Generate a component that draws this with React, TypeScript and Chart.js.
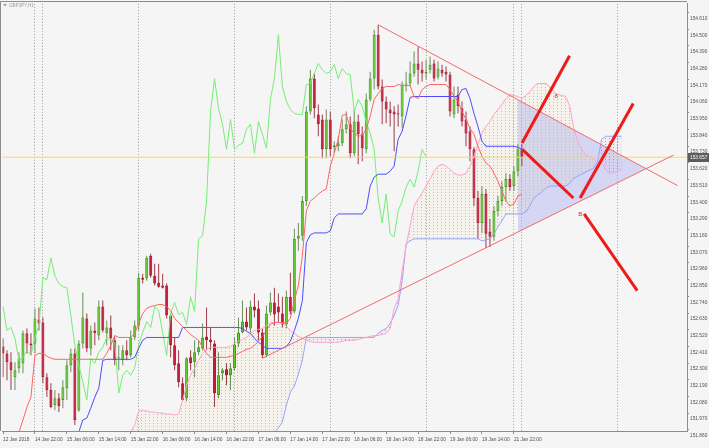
import React, { useEffect, useRef } from "react";
import { Chart, registerables } from "chart.js";

Chart.register(...registerables);

const FONT = '"Liberation Sans", Arial, sans-serif';
const BG = "#f5f5f5";
const TEXT = "#505050";
const AXIS = "#8c8c8c";

const X_MIN = -0.125;
const X_MAX = 171.375;
const Y_MIN = 151.8525;
const Y_MAX = 154.6675;

const symbolTitle = "GBPJPY,H1";
const lastPrice = 153.657;
const CHIKOU_SHIFT = 24;

const dateLabels = [
  "12 Jan 2018", "14 Jan 22:00", "15 Jan 06:00", "15 Jan 14:00", "15 Jan 22:00", "16 Jan 06:00",
  "16 Jan 14:00", "16 Jan 22:00", "17 Jan 06:00", "17 Jan 14:00", "17 Jan 22:00", "18 Jan 06:00",
  "18 Jan 14:00", "18 Jan 22:00", "19 Jan 06:00", "19 Jan 14:00", "21 Jan 22:00",
];
const labelIdx = [0, 8, 16, 24, 32, 40, 48, 56, 64, 72, 80, 88, 96, 104, 112, 120, 128];
const separatorIdx = [8, 10, 34, 58, 82, 106, 128, 130, 154];
const priceTicks = [
  154.61, 154.5, 154.39, 154.28, 154.17, 154.06, 153.95, 153.84, 153.73, 153.62, 153.51, 153.4, 153.29,
  153.18, 153.07, 152.96, 152.85, 152.74, 152.63, 152.52, 152.41, 152.3, 152.19, 152.08, 151.97, 151.86,
];

const opens = [
  152.410, 152.364, 152.305, 152.207, 152.266, 152.299, 152.496, 152.430, 152.430, 152.587,
  152.568, 152.207, 152.122, 152.023, 152.069, 152.056, 152.135, 152.286, 152.364, 151.990,
  152.430, 152.594, 152.397, 152.515, 152.482, 152.673, 152.496, 152.535, 152.450, 152.332,
  152.318, 152.384, 152.351, 152.469, 152.548, 152.863, 152.857, 153.007, 152.876, 152.830,
  152.811, 152.811, 152.614, 152.417, 152.299, 152.168, 152.069, 152.338, 152.305, 152.371,
  152.397, 152.476, 152.456, 152.430, 152.089, 152.233, 152.259, 152.220, 152.266, 152.430,
  152.502, 152.574, 152.528, 152.673, 152.660, 152.502, 152.351, 152.633, 152.699, 152.673,
  152.627, 152.555, 152.738, 152.640, 153.119, 153.139, 153.368, 153.959, 154.175, 153.939,
  153.906, 153.709, 153.906, 153.723, 153.729, 153.749, 153.841, 153.874, 153.683, 153.893,
  153.808, 153.709, 154.038, 154.175, 154.464, 154.123, 154.024, 153.972, 153.959, 153.946,
  153.926, 154.136, 154.143, 154.208, 154.274, 154.234, 154.208, 154.234, 154.274, 154.188,
  154.234, 154.221, 154.202, 153.939, 154.070, 153.979, 153.906, 153.828, 153.709, 153.388,
  153.224, 153.414, 153.165, 153.132, 153.303, 153.368, 153.460, 153.513, 153.467, 153.565,
  153.709,
];
const highs = [
  152.463, 152.384, 152.371, 152.305, 152.371, 152.515, 152.528, 152.496, 152.660, 152.666,
  152.601, 152.233, 152.168, 152.122, 152.102, 152.187, 152.318, 152.397, 152.397, 152.450,
  152.765, 152.627, 152.548, 152.568, 152.712, 152.712, 152.581, 152.614, 152.476, 152.417,
  152.417, 152.450, 152.515, 152.581, 152.896, 152.889, 153.007, 153.021, 152.955, 152.955,
  152.889, 152.824, 152.627, 152.469, 152.384, 152.207, 152.338, 152.384, 152.450, 152.450,
  152.561, 152.666, 152.535, 152.450, 152.371, 152.266, 152.299, 152.299, 152.469, 152.601,
  152.712, 152.666, 152.712, 152.758, 152.712, 152.528, 152.679, 152.765, 152.797, 152.758,
  152.738, 152.778, 152.896, 153.185, 153.224, 153.401, 153.992, 154.234, 154.208, 154.005,
  153.939, 153.972, 153.959, 153.762, 153.795, 153.906, 153.959, 153.926, 153.972, 153.939,
  153.860, 154.077, 154.221, 154.497, 154.530, 154.169, 154.057, 154.024, 153.992, 154.005,
  154.156, 154.221, 154.287, 154.353, 154.385, 154.287, 154.300, 154.320, 154.300, 154.287,
  154.267, 154.254, 154.221, 154.123, 154.123, 154.024, 153.959, 153.860, 153.723, 153.434,
  153.467, 153.447, 153.250, 153.336, 153.401, 153.499, 153.552, 153.545, 153.598, 153.742,
  153.742,
];
const lows = [
  152.207, 152.187, 152.122, 152.122, 152.233, 152.233, 152.364, 152.351, 152.364, 152.515,
  152.168, 152.076, 152.003, 151.990, 151.977, 152.003, 152.056, 152.240, 151.892, 151.977,
  152.397, 152.371, 152.351, 152.417, 152.450, 152.502, 152.417, 152.384, 152.286, 152.253,
  152.286, 152.318, 152.338, 152.450, 152.515, 152.824, 152.843, 152.863, 152.811, 152.797,
  152.791, 152.594, 152.338, 152.253, 152.141, 152.049, 152.049, 152.253, 152.207, 152.351,
  152.384, 152.384, 152.384, 152.010, 152.069, 152.187, 152.154, 152.122, 152.253, 152.404,
  152.496, 152.515, 152.502, 152.601, 152.450, 152.332, 152.338, 152.614, 152.548, 152.568,
  152.535, 152.528, 152.620, 152.627, 153.040, 153.106, 153.336, 153.939, 153.913, 153.795,
  153.650, 153.650, 153.664, 153.683, 153.696, 153.729, 153.814, 153.650, 153.664, 153.611,
  153.631, 153.683, 154.024, 154.103, 154.103, 153.874, 153.880, 153.860, 153.696, 153.860,
  153.847, 154.090, 154.123, 154.188, 154.136, 154.156, 154.169, 154.208, 154.156, 154.169,
  154.188, 154.156, 153.926, 153.913, 153.946, 153.860, 153.729, 153.631, 153.336, 153.119,
  153.158, 153.060, 153.066, 153.106, 153.270, 153.336, 153.368, 153.434, 153.434, 153.532,
  153.598,
];
const closes = [
  152.364, 152.305, 152.253, 152.253, 152.332, 152.496, 152.430, 152.417, 152.594, 152.561,
  152.207, 152.122, 152.010, 152.069, 152.017, 152.141, 152.286, 152.364, 151.925, 152.430,
  152.601, 152.397, 152.515, 152.496, 152.673, 152.515, 152.535, 152.463, 152.318, 152.338,
  152.384, 152.351, 152.469, 152.548, 152.863, 152.850, 152.994, 152.876, 152.824, 152.804,
  152.797, 152.614, 152.417, 152.286, 152.174, 152.056, 152.332, 152.299, 152.371, 152.404,
  152.469, 152.450, 152.437, 152.102, 152.220, 152.253, 152.220, 152.266, 152.423, 152.502,
  152.574, 152.535, 152.673, 152.646, 152.502, 152.351, 152.627, 152.699, 152.620, 152.633,
  152.555, 152.738, 152.640, 153.119, 153.139, 153.368, 153.959, 154.175, 153.979, 153.874,
  153.709, 153.906, 153.709, 153.736, 153.749, 153.841, 153.874, 153.683, 153.893, 153.808,
  153.716, 154.038, 154.175, 154.464, 154.123, 154.024, 153.972, 153.946, 153.939, 153.939,
  154.136, 154.143, 154.208, 154.274, 154.234, 154.208, 154.221, 154.267, 154.175, 154.241,
  154.208, 154.202, 153.959, 154.038, 153.992, 153.893, 153.814, 153.709, 153.388, 153.224,
  153.414, 153.152, 153.132, 153.303, 153.368, 153.460, 153.513, 153.460, 153.565, 153.709,
  153.657,
];

const tenkan = [
  151.761, 151.761, 151.761, 151.761, 151.846, 151.925, 152.010, 152.076, 152.351, 152.364,
  152.364, 152.345, 152.332, 152.325, 152.325, 152.325, 152.325, 152.325, 152.325, 152.325,
  152.325, 152.325, 152.325, 152.325, 152.325, 152.325, 152.364, 152.417, 152.482, 152.469,
  152.469, 152.469, 152.469, 152.496, 152.561, 152.627, 152.660, 152.673, 152.679, 152.686,
  152.686, 152.673, 152.646, 152.594, 152.568, 152.542, 152.515, 152.489, 152.469, 152.450,
  152.404, 152.364, 152.338, 152.338, 152.338, 152.338, 152.338, 152.345, 152.351, 152.364,
  152.377, 152.391, 152.397, 152.417, 152.443, 152.476, 152.515, 152.555, 152.568, 152.568,
  152.568, 152.561, 152.594, 152.712, 152.811, 153.007, 153.303, 153.368, 153.388, 153.414,
  153.434, 153.447, 153.598, 153.683, 153.775, 153.933, 153.939, 153.847, 153.814, 153.795,
  153.801, 153.841, 153.926, 154.038, 154.077, 154.110, 154.123, 154.123, 154.123, 154.136,
  154.130, 154.130, 154.130, 154.057, 154.044, 154.103, 154.123, 154.136, 154.136, 154.136,
  154.136, 154.136, 154.103, 154.057, 154.024, 153.959, 153.906, 153.847, 153.808, 153.729,
  153.664, 153.618, 153.598, 153.552, 153.499, 153.434, 153.368, 153.336, 153.349, 153.401,
  153.414,
];
const kijun = [
  151.793, 151.793, 151.793, 151.793, 151.793, 151.793, 151.793, 151.793, 151.793, 151.793,
  151.793, 151.793, 151.793, 151.793, 151.793, 151.793, 151.793, 151.793, 151.793, 151.846,
  151.925, 151.938, 152.003, 152.076, 152.135, 152.318, 152.325, 152.325, 152.325, 152.325,
  152.325, 152.325, 152.325, 152.338, 152.397, 152.450, 152.469, 152.469, 152.469, 152.469,
  152.469, 152.469, 152.469, 152.469, 152.469, 152.535, 152.535, 152.535, 152.535, 152.535,
  152.535, 152.535, 152.535, 152.535, 152.535, 152.535, 152.535, 152.535, 152.535, 152.535,
  152.528, 152.509, 152.496, 152.463, 152.437, 152.417, 152.397, 152.397, 152.397, 152.397,
  152.397, 152.410, 152.443, 152.515, 152.594, 152.712, 153.093, 153.145, 153.158, 153.158,
  153.158, 153.158, 153.171, 153.257, 153.283, 153.283, 153.283, 153.283, 153.283, 153.283,
  153.283, 153.316, 153.467, 153.526, 153.545, 153.545, 153.545, 153.565, 153.598, 153.775,
  153.828, 153.933, 154.051, 154.057, 154.057, 154.057, 154.057, 154.057, 154.057, 154.057,
  154.057, 154.057, 154.057, 154.057, 154.057, 154.103, 154.110, 154.044, 153.946, 153.860,
  153.762, 153.729, 153.729, 153.729, 153.729, 153.729, 153.729, 153.729, 153.729, 153.723,
  153.709,
];
const senkouA = [
  151.761, 151.761, 151.761, 151.761, 151.761, 151.761, 151.761, 151.761, 151.761, 151.761,
  151.761, 151.761, 151.761, 151.761, 151.761, 151.761, 151.761, 151.761, 151.761, 151.761,
  151.761, 151.761, 151.761, 151.761, 151.761, 151.761, 151.761, 151.761, 151.761, 151.761,
  151.761, 151.761, 151.846, 151.892, 151.984, 151.990, 151.984, 151.977, 151.977, 151.971,
  151.971, 151.964, 151.964, 151.958, 151.964, 152.056, 152.154, 152.220, 152.266, 152.318,
  152.364, 152.391, 152.404, 152.404, 152.404, 152.404, 152.404, 152.410, 152.430, 152.443,
  152.456, 152.469, 152.496, 152.515, 152.522, 152.528, 152.548, 152.568, 152.568, 152.568,
  152.561, 152.542, 152.515, 152.496, 152.476, 152.463, 152.450, 152.443, 152.437, 152.437,
  152.437, 152.437, 152.437, 152.437, 152.437, 152.443, 152.450, 152.450, 152.450, 152.456,
  152.463, 152.469, 152.476, 152.482, 152.482, 152.489, 152.496, 152.528, 152.660, 152.725,
  152.909, 153.073, 153.204, 153.335, 153.381, 153.421, 153.467, 153.513, 153.565, 153.598,
  153.611, 153.598, 153.578, 153.552, 153.539, 153.539, 153.552, 153.598, 153.664, 153.742,
  153.814, 153.860, 153.893, 153.939, 153.972, 154.005, 154.044, 154.070, 154.064, 154.057,
  154.044, 154.064, 154.090, 154.123, 154.143, 154.143, 154.143, 154.123, 154.090, 154.070,
  154.064, 154.057, 153.992, 153.847, 153.762, 153.709, 153.670, 153.657, 153.644, 153.618,
  153.618, 153.578, 153.552, 153.552, 153.565, 153.578,
];
const senkouB = [
  151.761, 151.761, 151.761, 151.761, 151.761, 151.761, 151.761, 151.761, 151.761, 151.761,
  151.761, 151.761, 151.761, 151.761, 151.761, 151.761, 151.761, 151.761, 151.761, 151.761,
  151.761, 151.761, 151.761, 151.761, 151.761, 151.761, 151.761, 151.761, 151.761, 151.761,
  151.761, 151.761, 151.761, 151.761, 151.761, 151.761, 151.761, 151.761, 151.761, 151.761,
  151.761, 151.761, 151.761, 151.761, 151.761, 151.761, 151.761, 151.761, 151.761, 151.761,
  151.761, 151.761, 151.761, 151.761, 151.761, 151.761, 151.761, 151.761, 151.761, 151.761,
  151.761, 151.761, 151.761, 151.761, 151.761, 151.761, 151.761, 151.761, 151.846, 151.872,
  151.912, 152.023, 152.108, 152.148, 152.227, 152.318, 152.469, 152.469, 152.469, 152.469,
  152.469, 152.469, 152.469, 152.469, 152.469, 152.469, 152.469, 152.469, 152.469, 152.469,
  152.469, 152.469, 152.469, 152.469, 152.496, 152.515, 152.528, 152.561, 152.614, 152.679,
  152.843, 153.086, 153.106, 153.119, 153.119, 153.119, 153.119, 153.119, 153.119, 153.119,
  153.119, 153.119, 153.119, 153.119, 153.119, 153.119, 153.119, 153.119, 153.119, 153.119,
  153.106, 153.112, 153.119, 153.152, 153.198, 153.237, 153.283, 153.283, 153.283, 153.283,
  153.283, 153.296, 153.335, 153.388, 153.408, 153.427, 153.454, 153.467, 153.467, 153.467,
  153.467, 153.467, 153.486, 153.519, 153.532, 153.545, 153.559, 153.572, 153.585, 153.631,
  153.775, 153.795, 153.795, 153.795, 153.795, 153.795,
];

// drawn objects: [barIndex, price]
const upperTrend = [[94, 154.53], [169, 153.47]];
const lowerTrend = [[65, 152.332], [168, 153.671]];
const triangleTop = [[129, 154.036], [161.1, 153.582]];
const triangleBottom = [[129, 153.164], [161.1, 153.582]];
const thickLines = [
  [[130.05, 153.751], [141.95, 154.326]],
  [[130.1, 153.709], [142.9, 153.388]],
  [[144.6, 153.388], [157.9, 154.011]],
  [[145.6, 153.283], [158.9, 152.778]],
];
const notes = [
  { text: "8", x: 138.6, y: 154.057 },
  { text: "B", x: 144.6, y: 153.283 },
];

const BULL_FILL = "#62d22c";
const BULL_EDGE = "#3f9c1e";
const BEAR_FILL = "#c8173a";
const BEAR_EDGE = "#b3132f";
const BULL_WICK = "#6a8f5c";
const BEAR_WICK = "#9c3b4b";

export default function App() {
  const ref = useRef<HTMLCanvasElement | null>(null);

  useEffect(() => {
    document.body.style.margin = "0";
    document.body.style.background = BG;
    const canvas = ref.current;
    if (!canvas) return;
    const ctx = canvas.getContext("2d") as CanvasRenderingContext2D;

    const makeDots = (tint: string, color: string) => {
      const c = document.createElement("canvas");
      c.width = 4;
      c.height = 3;
      const g = c.getContext("2d") as CanvasRenderingContext2D;
      g.fillStyle = tint;
      g.fillRect(0, 0, 4, 3);
      g.fillStyle = color;
      g.fillRect(1, 0, 1, 1);
      return ctx.createPattern(c, "repeat") as CanvasPattern;
    };
    const yellowDots = makeDots("rgba(248,220,130,0.08)", "#f0bc3a");
    const greyDots = makeDots("rgba(180,180,225,0.08)", "#9c9cc8");

    const pts = (arr: number[]) => arr.map((v, i) => ({ x: i, y: v }));
    const pairPts = (arr: number[][]) => arr.map((p) => ({ x: p[0], y: p[1] }));
    const bull = opens.map((o, i) => closes[i] >= o);

    const lineBase = {
      type: "line" as const,
      pointRadius: 0,
      borderWidth: 1,
      tension: 0,
      fill: false,
      xAxisID: "x",
      yAxisID: "y",
    };

    const datasets: any[] = [
      { ...lineBase, label: "triTop", data: pairPts(triangleTop), borderWidth: 0, borderColor: "rgba(0,0,0,0)",
        fill: { target: "+1" }, backgroundColor: "rgba(176,176,244,0.45)", order: 100 },
      { ...lineBase, label: "triBottom", data: pairPts(triangleBottom), borderWidth: 0, borderColor: "rgba(0,0,0,0)", order: 101 },
      { ...lineBase, label: "senkouB", data: pts(senkouB), borderColor: "#98a2ff", order: 42 },
      { ...lineBase, label: "senkouA", data: pts(senkouA), borderColor: "#ffa2c8", order: 41,
        fill: { target: "-1", above: yellowDots, below: greyDots } },
      { type: "bar", label: "wicks", data: opens.map((_, i) => ({ x: i, y: [lows[i], highs[i]] })),
        backgroundColor: bull.map((b) => (b ? BULL_WICK : BEAR_WICK)), borderWidth: 0, barThickness: 1,
        grouped: false, inflateAmount: 0, xAxisID: "x", yAxisID: "y", order: 60 },
      { type: "bar", label: "bodies", data: opens.map((o, i) => ({ x: i, y: [o, closes[i]] })),
        backgroundColor: bull.map((b) => (b ? BULL_FILL : BEAR_FILL)),
        borderColor: bull.map((b) => (b ? BULL_EDGE : BEAR_EDGE)), borderWidth: 1, borderSkipped: false,
        barThickness: 3, minBarLength: 1, grouped: false, inflateAmount: 0, xAxisID: "x", yAxisID: "y", order: 59 },
      { ...lineBase, label: "chikou", data: closes.slice(CHIKOU_SHIFT).map((c, k) => ({ x: k, y: c })),
        borderColor: "#74ee74", order: 40 },
      { ...lineBase, label: "kijun", data: pts(kijun), borderColor: "#4c4cff", order: 39 },
      { ...lineBase, label: "tenkan", data: pts(tenkan), borderColor: "#ff6464", order: 38 },
      { ...lineBase, label: "bid", data: [{ x: X_MIN, y: lastPrice }, { x: X_MAX, y: lastPrice }],
        borderColor: "#ffd45a", order: 30 },
      { ...lineBase, label: "upperTrend", data: pairPts(upperTrend), borderColor: "#f06c6c", order: 20 },
      { ...lineBase, label: "lowerTrend", data: pairPts(lowerTrend), borderColor: "#f06c6c", order: 20 },
      ...thickLines.map((seg, k) => ({
        ...lineBase, label: "arrow" + k, data: pairPts(seg), borderColor: "#ee1b1b", borderWidth: 3, order: 10,
      })),
    ];

    const overlay = {
      id: "overlay",
      beforeDraw(chart: any) {
        const c = chart.ctx;
        c.save();
        c.fillStyle = BG;
        c.fillRect(0, 0, chart.width, chart.height);
        c.restore();
      },
      afterDraw(chart: any) {
        const c = chart.ctx as CanvasRenderingContext2D;
        const a = chart.chartArea;
        const xs = chart.scales.x;
        const ys = chart.scales.y;
        c.save();
        c.strokeStyle = AXIS;
        c.lineWidth = 1;
        c.beginPath();
        c.moveTo(0.5, a.bottom);
        c.lineTo(0.5, 1.5);
        c.lineTo(a.right, 1.5);
        c.stroke();
        c.fillStyle = "#9a9a9a";
        c.beginPath();
        c.moveTo(3, 4);
        c.lineTo(7, 4);
        c.lineTo(5, 6.5);
        c.closePath();
        c.fill();
        c.font = `4.6px ${FONT}`;
        c.textBaseline = "middle";
        c.textAlign = "left";
        c.fillText(symbolTitle, 9, 5.5);
        const py = Math.round(ys.getPixelForValue(lastPrice));
        c.fillStyle = "#5c5c5c";
        c.fillRect(a.right + 1, py - 4, chart.width - a.right - 1, 9);
        c.fillStyle = "#ffffff";
        c.font = `4.8px ${FONT}`;
        c.fillText(lastPrice.toFixed(3), a.right + 3, py + 0.5);
        c.fillStyle = "#e02424";
        c.font = `6px ${FONT}`;
        c.textAlign = "center";
        for (const n of notes) {
          c.fillText(n.text, xs.getPixelForValue(n.x), ys.getPixelForValue(n.y));
        }
        c.restore();
      },
    };

    const chart = new Chart(canvas, {
      type: "line",
      data: { datasets },
      options: {
        responsive: false,
        animation: false,
        devicePixelRatio: 1,
        events: [],
        layout: { padding: { left: 1, top: 2, right: 0, bottom: 0 } },
        plugins: {
          legend: { display: false },
          tooltip: { enabled: false },
          filler: { drawTime: "beforeDatasetsDraw", propagate: false },
        } as any,
        scales: {
          x: {
            type: "linear",
            position: "bottom",
            min: X_MIN,
            max: X_MAX,
            offset: false,
            afterBuildTicks: (axis: any) => {
              axis.ticks = labelIdx.map((v) => ({ value: v }));
            },
            afterFit: (axis: any) => {
              axis.height = 17;
            },
            ticks: {
              autoSkip: false,
              maxRotation: 0,
              minRotation: 0,
              align: "start",
              padding: 3,
              color: TEXT,
              font: { family: FONT, size: 4.8 },
              callback: (_v: any, idx: number) => dateLabels[idx],
            },
            grid: { offset: false, drawOnChartArea: false, drawTicks: true, tickLength: 3, color: AXIS },
            border: { display: true, color: AXIS },
          },
          sep: {
            type: "linear",
            position: "bottom",
            min: X_MIN,
            max: X_MAX,
            offset: false,
            afterBuildTicks: (axis: any) => {
              axis.ticks = separatorIdx.map((v) => ({ value: v }));
            },
            afterFit: (axis: any) => {
              axis.height = 0;
            },
            ticks: { display: false, autoSkip: false },
            grid: { offset: false, drawOnChartArea: true, drawTicks: false, color: "#a0a0a0", lineWidth: 1 },
            border: { display: false, dash: [1, 2] },
          },
          y: {
            type: "linear",
            position: "right",
            min: Y_MIN,
            max: Y_MAX,
            beginAtZero: false,
            afterBuildTicks: (axis: any) => {
              axis.ticks = priceTicks.map((v) => ({ value: v }));
            },
            afterFit: (axis: any) => {
              axis.width = 22;
            },
            ticks: {
              autoSkip: false,
              padding: 1,
              labelOffset: 6,
              color: TEXT,
              font: { family: FONT, size: 4.8 },
              callback: (v: any) => Number(v).toFixed(3),
            },
            grid: { drawOnChartArea: false, tickLength: 2, color: AXIS },
            border: { color: AXIS },
          },
        } as any,
      },
      plugins: [overlay],
    } as any);

    return () => chart.destroy();
  }, []);

  return (
    <div style={{ position: "absolute", left: 0, top: 0, width: 709, height: 448, background: BG }}>
      <canvas ref={ref} width={709} height={448} style={{ display: "block", width: 709, height: 448 }} />
    </div>
  );
}
